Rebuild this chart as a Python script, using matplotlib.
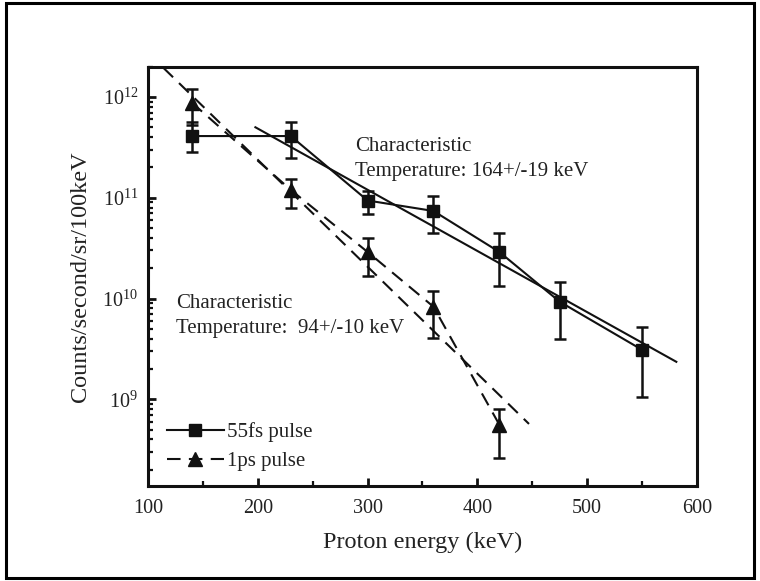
import matplotlib
matplotlib.use("Agg")
import matplotlib.pyplot as plt
from matplotlib.patches import Rectangle
from matplotlib.ticker import LogLocator, FixedLocator, NullFormatter, LogFormatterMathtext

plt.rcParams['font.family'] = ['Liberation Serif', 'DejaVu Serif']
plt.rcParams['mathtext.fontset'] = 'custom'
plt.rcParams['mathtext.rm'] = 'Liberation Serif'
plt.rcParams['mathtext.it'] = 'Liberation Serif:italic'

# ---- data ----
energy_fs = [140, 230, 300, 360, 420, 475, 550]
counts_fs = [4.1e11, 4.1e11, 9.4e10, 7.4e10, 2.9e10, 9.3e9, 3.1e9]
err_fs_hi = [5.6e11, 5.6e11, 1.16e11, 1.05e11, 4.5e10, 1.46e10, 5.2e9]
err_fs_lo = [2.86e11, 2.5e11, 6.9e10, 4.5e10, 1.34e10, 4.0e9, 1.05e9]

energy_ps = [140, 230, 300, 360, 420]
counts_ps = [8.8e11, 1.2e11, 2.9e10, 8.3e9, 5.6e8]
err_ps_hi = [1.2e12, 1.55e11, 4.0e10, 1.18e10, 8.1e8]
err_ps_lo = [5.3e11, 7.9e10, 1.68e10, 4.1e9, 2.6e8]

fit_fs_x = [197, 582]
fit_fs_y = [5.07e11, 2.33e9]
fit_ps_x = [114, 447]
fit_ps_y = [1.95e12, 5.7e8]

x_ticks = [100, 200, 300, 400, 500, 600]
label_fs = "55fs pulse"
label_ps = "1ps pulse"
note_fs = ["Characteristic", "Temperature: 164+/-19 keV"]
note_ps = ["Characteristic", "Temperature:  94+/-10 keV"]

ink = '#111111'
text_col = '#222222'

fig = plt.figure(figsize=(7.6, 5.81), dpi=100)
ax = fig.add_axes([0.1947, 0.1635, 0.7224, 0.7217])

dash = (6.5, 4.0)

# fit lines
ax.plot(fit_fs_x, fit_fs_y, color=ink, lw=1.5, solid_capstyle='butt', zorder=2)
ax.plot(fit_ps_x, fit_ps_y, color=ink, lw=1.5, dashes=dash, zorder=2)

# data with error bars
yerr_fs = [[c - l for c, l in zip(counts_fs, err_fs_lo)], [h - c for c, h in zip(counts_fs, err_fs_hi)]]
yerr_ps = [[c - l for c, l in zip(counts_ps, err_ps_lo)], [h - c for c, h in zip(counts_ps, err_ps_hi)]]

ax.errorbar(energy_fs, counts_fs, yerr=yerr_fs, fmt='none', ecolor=ink, elinewidth=1.8,
            capsize=4.0, capthick=1.8, zorder=3)
ax.errorbar(energy_ps, counts_ps, yerr=yerr_ps, fmt='none', ecolor=ink, elinewidth=1.8,
            capsize=4.0, capthick=1.8, zorder=3)

ax.plot(energy_fs, counts_fs, color=ink, lw=1.5, marker='s', markersize=8.5,
        markerfacecolor=ink, markeredgecolor=ink, label=label_fs, zorder=4)
ax.plot(energy_ps, counts_ps, color=ink, lw=1.5, dashes=dash, marker='^', markersize=9.5,
        markerfacecolor=ink, markeredgecolor=ink, label=label_ps, zorder=4)

ax.set_yscale('log')
ax.set_xlim(100, 600)
ax.set_ylim(1.38e8, 2.0e12)

ax.xaxis.set_major_locator(FixedLocator(x_ticks))
ax.xaxis.set_minor_locator(FixedLocator([150, 250, 350, 450, 550]))
ax.yaxis.set_major_locator(LogLocator(base=10, numticks=20))
ax.yaxis.set_minor_locator(LogLocator(base=10, subs=[2, 3, 4, 5, 6, 7, 8, 9], numticks=50))
ax.yaxis.set_major_formatter(LogFormatterMathtext())
ax.yaxis.set_minor_formatter(NullFormatter())

ax.tick_params(which='both', direction='in', top=False, right=False, colors=ink,
               labelcolor=text_col)
ax.tick_params(which='major', length=6, width=2.0, labelsize=14.5, pad=7)
ax.tick_params(which='minor', length=3.5, width=1.6)
ax.tick_params(axis='x', which='major', pad=9)

for s in ax.spines.values():
    s.set_linewidth(2.2)
    s.set_color(ink)

ax.set_xlabel("Proton energy (keV)", fontsize=17.5, color=text_col, labelpad=10)
ax.set_ylabel("Counts/second/sr/100keV", fontsize=17.5, color=text_col, labelpad=8)

ax.text(0.377, 0.799, note_fs[0], transform=ax.transAxes, fontsize=15, color=text_col, va='baseline')
ax.text(0.377, 0.739, note_fs[1], transform=ax.transAxes, fontsize=15, color=text_col, va='baseline')
ax.text(0.051, 0.4245, note_ps[0], transform=ax.transAxes, fontsize=15, color=text_col, va='baseline')
ax.text(0.051, 0.3656, note_ps[1], transform=ax.transAxes, fontsize=15, color=text_col, va='baseline')

leg = ax.legend(loc='lower left', bbox_to_anchor=(0.034, 0.035), frameon=False,
                fontsize=15, handlelength=2.75, handletextpad=0.15, labelspacing=0.45,
                borderpad=0, borderaxespad=0)
for t in leg.get_texts():
    t.set_color(text_col)

fig.patches.append(Rectangle((0.0085, 0.005), 0.984, 0.989, transform=fig.transFigure,
                             fill=False, lw=2.2, ec='black'))

fig.savefig("out.png", dpi=100)
